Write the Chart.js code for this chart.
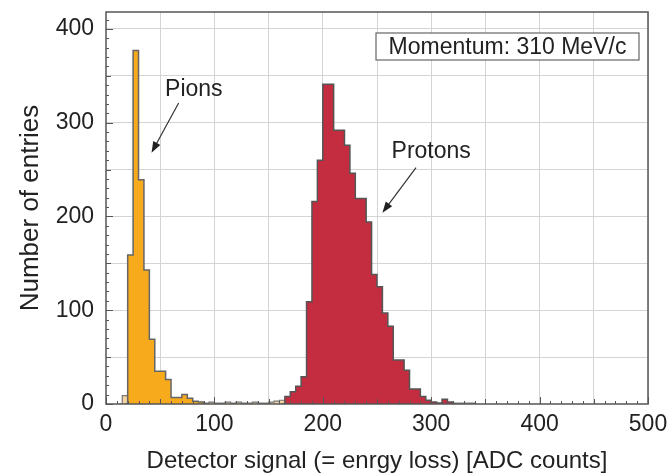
<!DOCTYPE html>
<html>
<head>
<meta charset="utf-8">
<script src="https://cdn.jsdelivr.net/npm/chart.js@4"></script>
<style>
  body { margin: 0; background: #fff; }
  #wrap { width: 671px; height: 473px; }
</style>
</head>
<body>
<div id="wrap"><canvas id="chart"></canvas></div>
<script>
const binWidth = 5;

// counts per 5-ADC bin
const pionStart = 20;
const pionCounts = [159, 377, 239, 143, 69, 35, 35, 26, 7, 7, 10, 6, 3, 2];

const protonStart = 165;
const protonCounts = [8, 13, 19, 29, 109, 216, 260, 341, 341, 292, 292, 276, 246, 219, 219,
                      194, 138, 125, 97, 83, 47, 47, 36, 16, 16, 8, 4, 2, 1, 5, 2];

const otherLowStart = 15;
const otherLowCounts = [9];
const otherMidStart = 90;
const otherMidCounts = [1, 2, 1, 1, 2, 1, 2, 1, 1, 2, 1, 1, 2, 3, 4];
const otherHighStart = 320;
const otherHighCounts = [1, 1, 1, 1];

const xTickLabels = [0, 100, 200, 300, 400, 500];
const yTickLabels = [0, 100, 200, 300, 400];

const FONT = "'Liberation Sans', Arial, sans-serif";

function steps(start, counts) {
    const pts = [{ x: start - binWidth / 2, y: 0 }];
    counts.forEach((c, i) => pts.push({ x: start + i * binWidth + binWidth / 2, y: c }));
    pts.push({ x: start + counts.length * binWidth + binWidth / 2, y: 0 });
    return pts;
}

const otherPoints = [
    ...steps(otherLowStart, otherLowCounts), { x: 30, y: null },
    ...steps(otherMidStart, otherMidCounts), { x: 200, y: null },
    ...steps(otherHighStart, otherHighCounts)
];

const extras = {
    id: "extras",
    afterDraw(chart) {
        const { ctx, chartArea: a, scales: { x, y } } = chart;
        ctx.save();
        ctx.strokeStyle = "#555";
        ctx.lineWidth = 1;
        ctx.beginPath();
        for (let v = 0; v <= 410; v += 10) {
            const py = Math.round(y.getPixelForValue(v)) + 0.5;
            const len = v % 100 === 0 ? 7 : (v % 50 === 0 ? 5 : 3);
            ctx.moveTo(a.left, py);
            ctx.lineTo(a.left + len, py);
        }
        for (let v = 0; v <= 500; v += 10) {
            const px = Math.round(x.getPixelForValue(v)) + 0.5;
            const len = v % 100 === 0 ? 7 : (v % 50 === 0 ? 5 : 3);
            ctx.moveTo(px, a.bottom);
            ctx.lineTo(px, a.bottom - len);
        }
        ctx.stroke();
        ctx.lineWidth = 1.5;
        ctx.strokeRect(a.left, a.top, a.right - a.left, a.bottom - a.top);

        // labels and arrows
        ctx.fillStyle = "#222";
        ctx.font = "23px " + FONT;
        ctx.textAlign = "center";
        ctx.textBaseline = "middle";
        ctx.fillText("Pions", x.getPixelForValue(81), y.getPixelForValue(335));
        ctx.fillText("Protons", x.getPixelForValue(300), y.getPixelForValue(269));
        arrow(ctx, x.getPixelForValue(67), y.getPixelForValue(321), x.getPixelForValue(42), y.getPixelForValue(268));
        arrow(ctx, x.getPixelForValue(286), y.getPixelForValue(252), x.getPixelForValue(255), y.getPixelForValue(204));

        // momentum box
        const bx = a.right - 272, by = a.top + 21, bw = 263, bh = 27;
        ctx.fillStyle = "#fff";
        ctx.fillRect(bx, by, bw, bh);
        ctx.strokeStyle = "#666";
        ctx.lineWidth = 1.2;
        ctx.strokeRect(bx, by, bw, bh);
        ctx.fillStyle = "#222";
        ctx.font = "23px " + FONT;
        ctx.fillText("Momentum: 310 MeV/c", bx + bw / 2, by + bh / 2 + 1);
        ctx.restore();
    }
};

function arrow(ctx, x0, y0, x1, y1) {
    const ang = Math.atan2(y1 - y0, x1 - x0);
    const hl = 11, hw = 4;
    ctx.strokeStyle = "#333";
    ctx.fillStyle = "#222";
    ctx.lineWidth = 1.2;
    ctx.beginPath();
    ctx.moveTo(x0, y0);
    ctx.lineTo(x1 - Math.cos(ang) * hl * 0.8, y1 - Math.sin(ang) * hl * 0.8);
    ctx.stroke();
    ctx.beginPath();
    ctx.moveTo(x1, y1);
    ctx.lineTo(x1 - Math.cos(ang) * hl - Math.sin(ang) * hw, y1 - Math.sin(ang) * hl + Math.cos(ang) * hw);
    ctx.lineTo(x1 - Math.cos(ang) * hl + Math.sin(ang) * hw, y1 - Math.sin(ang) * hl - Math.cos(ang) * hw);
    ctx.closePath();
    ctx.fill();
}

const gridColor = ctx => (ctx.tick && ctx.tick.value % 50 === 0 && ctx.tick.value > 0 ? "#d4d4d4" : "rgba(0,0,0,0)");

new Chart(document.getElementById("chart"), {
    type: "line",
    data: {
        datasets: [
            {
                label: "Other",
                data: otherPoints,
                stepped: "middle",
                fill: "origin",
                backgroundColor: "#f2d3a2",
                borderColor: "#777",
                borderWidth: 1.2,
                pointRadius: 0,
                spanGaps: false,
                order: 3
            },
            {
                label: "Pions",
                data: steps(pionStart, pionCounts),
                stepped: "middle",
                fill: "origin",
                backgroundColor: "#f6aa1c",
                borderColor: "#666",
                borderWidth: 1.5,
                pointRadius: 0,
                order: 1
            },
            {
                label: "Protons",
                data: steps(protonStart, protonCounts),
                stepped: "middle",
                fill: "origin",
                backgroundColor: "#c42d40",
                borderColor: "#555",
                borderWidth: 1.5,
                pointRadius: 0,
                order: 1
            }
        ]
    },
    options: {
        responsive: true,
        maintainAspectRatio: false,
        animation: false,
        layout: { padding: { left: 8, right: 23, top: 12, bottom: 0 } },
        plugins: { legend: { display: false }, tooltip: { enabled: false } },
        scales: {
            x: {
                type: "linear",
                min: 0,
                max: 500,
                afterFit: s => { s.height = 69; s.paddingLeft = 0; s.paddingRight = 0; },
                border: { display: false },
                grid: { color: gridColor, drawTicks: false },
                ticks: {
                    stepSize: 10,
                    autoSkip: false,
                    maxRotation: 0,
                    padding: 7,
                    color: "#222",
                    font: { family: FONT, size: 23 },
                    callback: v => (xTickLabels.includes(v) ? String(v) : "")
                },
                title: {
                    display: true,
                    text: "Detector signal (= enrgy loss) [ADC counts]",
                    color: "#222",
                    font: { family: FONT, size: 24, lineHeight: 1 },
                    padding: { top: 0, bottom: 0 }
                }
            },
            y: {
                min: 0,
                max: 418,
                afterFit: s => { s.width = 98; s.paddingTop = 0; s.paddingBottom = 0; },
                border: { display: false },
                grid: { color: gridColor, drawTicks: false },
                ticks: {
                    stepSize: 10,
                    autoSkip: false,
                    padding: 12,
                    color: "#222",
                    font: { family: FONT, size: 23 },
                    callback: v => (yTickLabels.includes(v) ? String(v) : "")
                },
                title: {
                    display: true,
                    text: "Number of entries",
                    color: "#222",
                    font: { family: FONT, size: 26, lineHeight: 1 },
                    padding: { top: 10, bottom: 0 }
                }
            }
        }
    },
    plugins: [extras]
});
</script>
</body>
</html>
